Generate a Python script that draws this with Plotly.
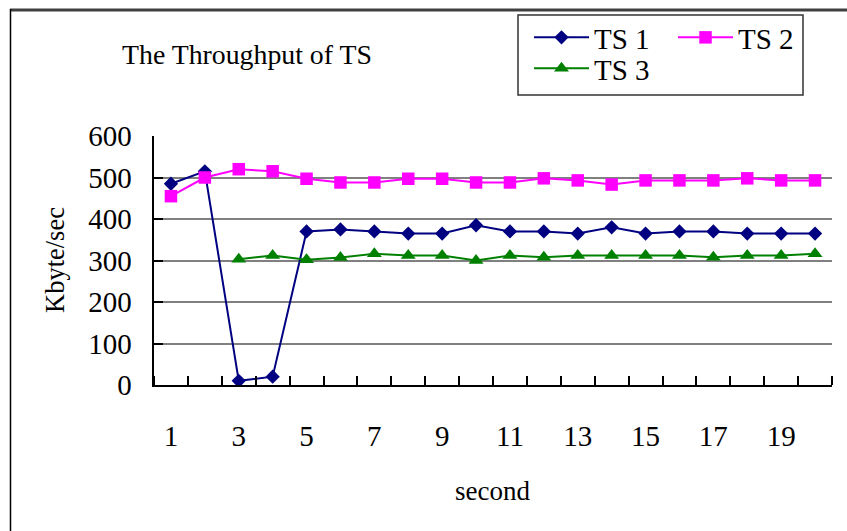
import plotly.graph_objects as go

# Throughput samples (Kbyte/sec) per second
seconds = list(range(1, 21))
ts1 = [485, 515, 10, 20, 370, 375, 370, 365, 365, 385,
       370, 370, 365, 380, 365, 370, 370, 365, 365, 365]
ts2 = [455, 500, 520, 515, 497, 488, 488, 497, 497, 488,
       488, 498, 493, 483, 493, 493, 493, 498, 493, 493]
ts3 = [None, None, 303, 312, 302, 307, 316, 312, 312, 300,
       312, 308, 312, 312, 312, 312, 308, 312, 312, 316]

x_labels = [str(v) for v in range(1, 21, 2)]
y_ticks = [0, 100, 200, 300, 400, 500, 600]

W, H = 847, 531
L, R, T, B = 154, 15, 136, 146
PW, PH = W - L - R, H - T - B
FONT = "Liberation Serif, Times New Roman, serif"
PAD = "\u00a0\u00a0"  # keeps the value labels clear of the axis line


def px(xp):
    return (xp - L) / PW


def py(yp):
    return (H - B - yp) / PH


fig = go.Figure()
fig.add_trace(go.Scatter(
    x=seconds, y=ts1, name="TS 1", mode="lines+markers", legend="legend",
    line=dict(color="#000080", width=2),
    marker=dict(symbol="diamond", size=11, color="#000080")))
fig.add_trace(go.Scatter(
    x=seconds, y=ts2, name="TS 2", mode="lines+markers", legend="legend",
    line=dict(color="#FF00FF", width=2),
    marker=dict(symbol="square", size=12.5, color="#FF00FF")))
fig.add_trace(go.Scatter(
    x=seconds, y=ts3, name="TS 3", mode="lines+markers", legend="legend2",
    line=dict(color="#008000", width=2),
    marker=dict(symbol="triangle-up", size=13, color="#008000")))

legend_common = dict(
    xanchor="left", yanchor="top", orientation="h",
    borderwidth=0, bgcolor="rgba(0,0,0,0)",
    font=dict(size=29, family=FONT, color="black"),
    itemwidth=55, entrywidth=74, traceorder="normal",
)

fig.update_layout(
    width=W, height=H,
    margin=dict(l=L, r=R, t=T, b=B),
    paper_bgcolor="white", plot_bgcolor="white",
    font=dict(family=FONT, size=29, color="black"),
    showlegend=True,
    legend=dict(x=px(529), y=py(12), **legend_common),
    legend2=dict(x=px(529), y=py(43), **legend_common),
    xaxis=dict(
        range=[0.5, 20.5], tickmode="array",
        tickvals=list(range(1, 21, 2)), ticktext=x_labels,
        tickfont=dict(family=FONT, size=29, color="black"),
        ticks="", showgrid=False, zeroline=False,
        showline=True, linecolor="black", linewidth=2,
        ticklabelstandoff=24,
        minor=dict(ticks="inside", tick0=0.5, dtick=1, ticklen=9,
                   tickwidth=1.5, tickcolor="black", showgrid=False),
    ),
    yaxis=dict(
        range=[0, 600], tickmode="array", tickvals=y_ticks,
        ticktext=[f"{v}{PAD}" for v in y_ticks],
        tickfont=dict(family=FONT, size=29, color="black"),
        ticks="inside", ticklen=9, tickwidth=1.5, tickcolor="black",
        showgrid=True, gridcolor="#808080", gridwidth=1.5,
        zeroline=False, showline=True, linecolor="black", linewidth=2,
    ),
    annotations=[
        dict(text="The Throughput of TS", xref="paper", yref="paper",
             x=px(247), y=py(55), xanchor="center", yanchor="middle",
             showarrow=False, font=dict(size=27.8, family=FONT)),
        dict(text="Kbyte/sec", xref="paper", yref="paper",
             x=px(55), y=py(260), xanchor="center", yanchor="middle",
             textangle=-90, showarrow=False, font=dict(size=26.5, family=FONT)),
        dict(text="second", xref="paper", yref="paper",
             x=px(492), y=py(491), xanchor="center", yanchor="middle",
             showarrow=False, font=dict(size=27, family=FONT)),
    ],
    shapes=[
        # chart frame: heavy top edge and thin left edge
        dict(type="line", xref="paper", yref="paper",
             x0=px(10), x1=px(850), y0=py(10), y1=py(10),
             line=dict(color="#404040", width=3)),
        dict(type="line", xref="paper", yref="paper",
             x0=px(10.5), x1=px(10.5), y0=py(9), y1=py(535),
             line=dict(color="black", width=1.5)),
        # legend frame
        dict(type="rect", xref="paper", yref="paper",
             x0=px(518), x1=px(803), y0=py(15), y1=py(95),
             line=dict(color="#333333", width=1.5)),
    ],
)

fig.write_html("out.html")
